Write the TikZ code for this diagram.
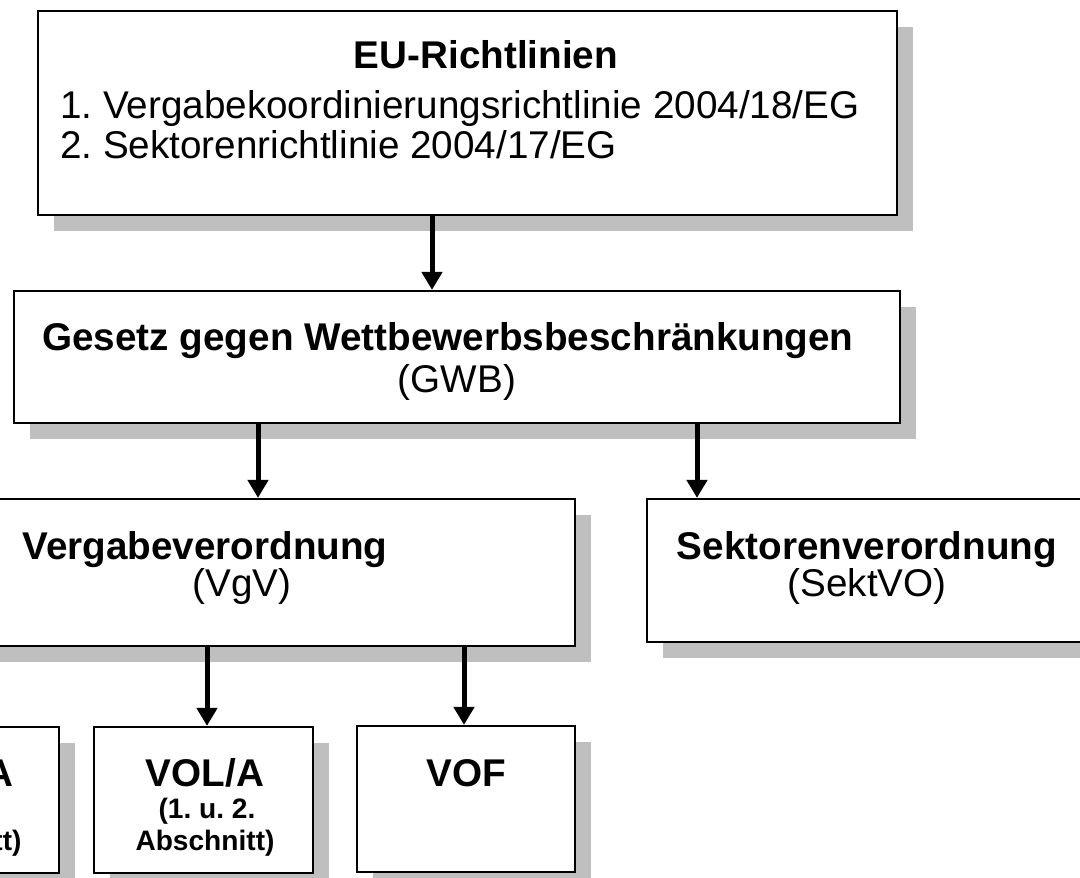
\documentclass[tikz,border=0pt]{standalone}
\usepackage{fontspec}
\setmainfont{Liberation Sans}
\usetikzlibrary{arrows.meta,shadows}
\frenchspacing

\begin{document}
\begin{tikzpicture}[
    x=0.02cm, y=-0.02cm,
    box/.style={
        draw=black,
        line width=1.3pt,
        fill=white,
        inner sep=0pt,
        general shadow={fill=black!25, shadow xshift=0.32cm, shadow yshift=-0.32cm}
    },
    head/.style={font=\fontsize{22}{26}\selectfont\bfseries, anchor=base},
    sub/.style={font=\fontsize{22}{26}\selectfont, anchor=base},
    lead/.style={font=\fontsize{22}{26}\selectfont\bfseries, anchor=base},
    note/.style={font=\fontsize{16}{19}\selectfont\bfseries, anchor=base},
    arr/.style={-{Triangle[length=0.36cm,width=0.4cm]}, line width=0.1cm}
]
    \useasboundingbox (0,0) rectangle (1080,877);
    \clip (0,0) rectangle (1080,877);

    % boxes
    \node[box, minimum width=17.18cm, minimum height=4.08cm] (eu) at (467.5,113) {};
    \node[box, minimum width=17.72cm, minimum height=2.64cm] (gwb) at (457,357) {};
    \node[box, minimum width=14.8cm, minimum height=2.94cm] (vgv) at (205,572.5) {};
    \node[box, minimum width=8.8cm, minimum height=2.86cm] (sekt) at (867,570.5) {};
    \node[box, minimum width=4.38cm, minimum height=2.92cm] (vob) at (-50.5,800) {};
    \node[box, minimum width=4.38cm, minimum height=2.92cm] (vol) at (203.5,800) {};
    \node[box, minimum width=4.36cm, minimum height=2.92cm] (vof) at (466,799) {};

    % texts
    \node[head] (eutitle) at (486,68) {EU-Richtlinien};
    \node[sub, anchor=base west] (eulist1) at (54,118) {1. Vergabekoordinierungsrichtlinie 2004/18/EG};
    \node[sub, anchor=base west] (eulist2) at (54,158) {2. Sektorenrichtlinie 2004/17/EG};

    \node[head] (gwbtitle) at (448,350) {Gesetz gegen Wettbewerbsbeschränkungen};
    \node[sub] (gwbshort) at (457,392) {(GWB)};

    \node[head] (vgvtitle) at (205,559) {Vergabeverordnung};
    \node[sub] (vgvshort) at (242,596) {(VgV)};

    \node[head] (sekttitle) at (867,559) {Sektorenverordnung};
    \node[sub] (sektshort) at (867,596) {(SektVO)};

    \node[lead] (vobtitle) at (-48,786) {VOB/A};
    \node[note] (vobnote1) at (-48,818) {(1. u. 2.};
    \node[note] (vobnote2) at (-48,850) {Abschnitt)};

    \node[lead] (voltitle) at (205,786) {VOL/A};
    \node[note] (volnote1) at (207,818) {(1. u. 2.};
    \node[note] (volnote2) at (205,850) {Abschnitt)};

    \node[lead] (voftitle) at (466,786) {VOF};

    % arrow columns
    \coordinate (c1) at (432,0);
    \coordinate (c2) at (258,0);
    \coordinate (c3) at (697,0);
    \coordinate (c4) at (207,0);
    \coordinate (c5) at (464,0);

    \draw[arr] (eu.south -| c1) -- (gwb.north -| c1);
    \draw[arr] (gwb.south -| c2) -- (vgv.north -| c2);
    \draw[arr] (gwb.south -| c3) -- (sekt.north -| c3);
    \draw[arr] (vgv.south -| c4) -- (vol.north -| c4);
    \draw[arr] (vgv.south -| c5) -- (vof.north -| c5);
\end{tikzpicture}
\end{document}
